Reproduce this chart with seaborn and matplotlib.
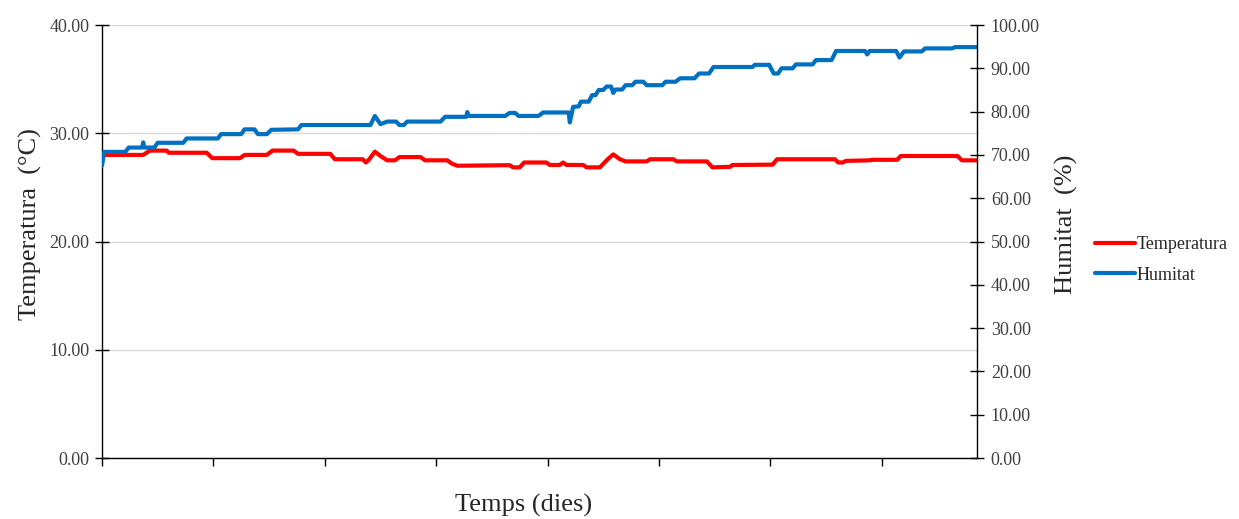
import pandas as pd
import matplotlib
matplotlib.use("Agg")
import matplotlib.pyplot as plt
import seaborn as sns

# Temperature readings (days since start, degrees C)
temp_days = [0, 0.37, 0.43, 0.58, 0.60, 0.94, 0.99, 1.24, 1.28, 1.48, 1.53, 1.72, 1.76,
             2.05, 2.09, 2.34, 2.37, 2.40, 2.45, 2.50, 2.56, 2.63, 2.67, 2.86, 2.90,
             3.10, 3.14, 3.19, 3.66, 3.69, 3.75, 3.79, 3.99, 4.02, 4.11, 4.14, 4.17,
             4.32, 4.35, 4.47, 4.54, 4.59, 4.65, 4.70, 4.89, 4.92, 5.13, 5.16, 5.43,
             5.48, 5.64, 5.66, 6.02, 6.06, 6.58, 6.61, 6.65, 6.68, 6.89, 6.92, 7.14,
             7.17, 7.68, 7.72, 7.855]
temp_vals = [28.0, 28.0, 28.4, 28.4, 28.2, 28.2, 27.7, 27.7, 28.0, 28.0, 28.4, 28.4, 28.1,
             28.1, 27.6, 27.6, 27.3, 27.6, 28.3, 27.9, 27.5, 27.5, 27.8, 27.8, 27.5,
             27.5, 27.2, 27.0, 27.05, 26.85, 26.85, 27.3, 27.3, 27.07, 27.07, 27.3, 27.07,
             27.07, 26.85, 26.85, 27.6, 28.05, 27.6, 27.4, 27.4, 27.6, 27.6, 27.4, 27.4,
             26.85, 26.9, 27.07, 27.1, 27.6, 27.6, 27.3, 27.3, 27.45, 27.5, 27.55, 27.55,
             27.9, 27.9, 27.5, 27.5]

# Humidity readings (days since start, %)
hum_days = [0, 0.02, 0.21, 0.24, 0.36, 0.37, 0.38, 0.47, 0.50, 0.73, 0.76, 1.04, 1.07,
            1.25, 1.28, 1.37, 1.40, 1.48, 1.52, 1.76, 1.79, 2.41, 2.45, 2.50, 2.56,
            2.64, 2.67, 2.71, 2.74, 3.04, 3.08, 3.27, 3.28, 3.29, 3.62, 3.66, 3.71,
            3.74, 3.92, 3.96, 4.19, 4.20, 4.23, 4.28, 4.30, 4.37, 4.40, 4.43, 4.46,
            4.50, 4.53, 4.57, 4.59, 4.61, 4.67, 4.70, 4.76, 4.79, 4.86, 4.89, 5.03,
            5.06, 5.15, 5.19, 5.32, 5.36, 5.45, 5.49, 5.84, 5.86, 5.99, 6.03, 6.07,
            6.10, 6.20, 6.23, 6.38, 6.41, 6.55, 6.59, 6.85, 6.87, 6.89, 7.13, 7.16,
            7.20, 7.36, 7.39, 7.63, 7.66, 7.855]
hum_vals = [67.5, 70.7, 70.7, 71.7, 71.7, 72.9, 71.7, 71.7, 72.8, 72.8, 73.8, 73.8, 74.8,
            74.8, 75.9, 75.9, 74.8, 74.8, 75.8, 75.9, 76.9, 76.9, 79.0, 77.1, 77.7,
            77.7, 76.9, 76.9, 77.7, 77.7, 78.8, 78.8, 79.9, 79.0, 79.0, 79.7, 79.7,
            79.0, 79.0, 79.8, 79.8, 77.5, 81.1, 81.2, 82.3, 82.3, 83.8, 83.8, 85.0,
            85.0, 85.8, 85.8, 84.3, 85.1, 85.1, 86.1, 86.1, 86.9, 86.9, 86.1, 86.1,
            86.9, 86.9, 87.7, 87.7, 88.8, 88.8, 90.3, 90.3, 90.8, 90.8, 88.8, 88.8,
            90.0, 90.0, 90.9, 90.9, 91.9, 91.9, 94.0, 94.0, 93.2, 94.0, 94.0, 92.5,
            93.9, 93.9, 94.6, 94.6, 94.9, 94.9]

temp_df = pd.DataFrame({"dia": temp_days, "Temperatura": temp_vals})
hum_df = pd.DataFrame({"dia": hum_days, "Humitat": hum_vals})

sns.set_style("white")
plt.rcParams['font.family'] = ['Liberation Serif', 'DejaVu Serif']

fig = plt.figure(figsize=(12.39, 5.19), dpi=100)
ax = fig.add_axes([0.0823, 0.1175, 0.7062, 0.8343])
ax2 = ax.twinx()

sns.lineplot(data=temp_df, x="dia", y="Temperatura", ax=ax, color="#FF0000",
             linewidth=3, label="Temperatura", legend=False, estimator=None, sort=False)
sns.lineplot(data=hum_df, x="dia", y="Humitat", ax=ax2, color="#0070C0",
             linewidth=3, label="Humitat", legend=False, estimator=None, sort=False)

ax.set_xlim(0, 7.855)
ax.set_ylim(0, 40)
ax2.set_ylim(0, 100)
ax.set_xticks(range(8))
ax.set_xticklabels([])
ax.set_yticks([0, 10, 20, 30, 40])
ax.set_yticklabels([f"{v:.2f}" for v in [0, 10, 20, 30, 40]])
ax2.set_yticks(range(0, 101, 10))
ax2.set_yticklabels([f"{v:.2f}" for v in range(0, 101, 10)])

ax.grid(axis="y", color="#D9D9D9", linewidth=1)
ax.set_axisbelow(True)

for a in (ax, ax2):
    a.spines["top"].set_visible(False)
    for s in ("left", "right", "bottom"):
        a.spines[s].set_color("black")
        a.spines[s].set_linewidth(1)
ax.spines["right"].set_visible(False)
ax2.spines["left"].set_visible(False)
ax2.spines["bottom"].set_visible(False)

ax.tick_params(axis="y", direction="inout", length=10, width=1, labelsize=13, pad=4,
               left=True, color="black", labelcolor="#404040")
ax.tick_params(axis="x", direction="out", length=6, width=1, bottom=True, color="black")
ax2.tick_params(axis="y", direction="inout", length=10, width=1, labelsize=13, pad=5,
                right=True, color="black", labelcolor="#404040")

ax.set_xlabel("Temps (dies)", fontsize=19)
ax.xaxis.set_label_coords(0.482, -0.084)
ax.set_ylabel("Temperatura  (°C)", fontsize=19)
ax.yaxis.set_label_coords(-0.069, 0.54)
ax2.set_ylabel("Humitat  (%)", fontsize=19)
ax2.yaxis.set_label_coords(1.089, 0.54)

h1, l1 = ax.get_legend_handles_labels()
h2, l2 = ax2.get_legend_handles_labels()
fig.legend(h1 + h2, l1 + l2, loc="center left", bbox_to_anchor=(0.871, 0.499),
           frameon=False, fontsize=13, handlelength=2.2, handletextpad=0.1,
           labelspacing=0.75)

fig.savefig("out.png", dpi=100)
